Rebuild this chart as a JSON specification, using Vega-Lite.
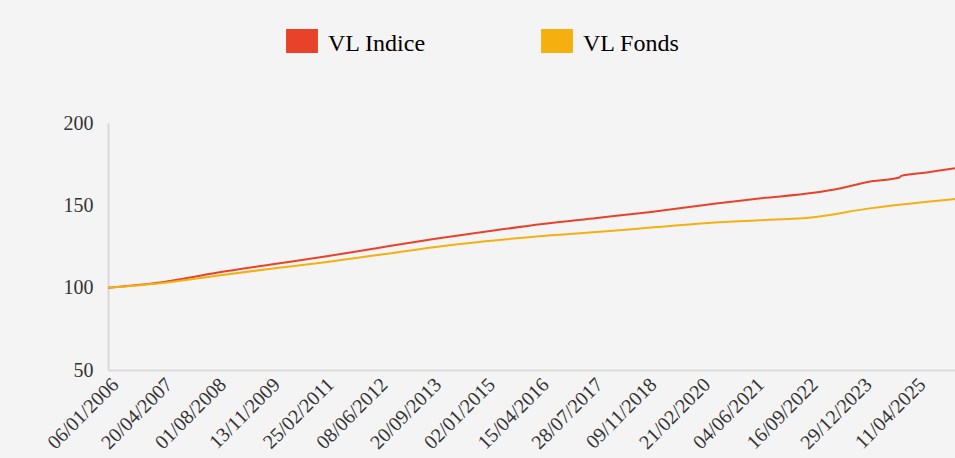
{
  "$schema": "https://vega.github.io/schema/vega-lite/v6.json",
  "width": 847,
  "height": 247,
  "autosize": {"type": "none"},
  "padding": {"left": 108, "top": 123, "right": 0, "bottom": 88},
  "background": "#f4f4f4",
  "config": {"view": {"stroke": null}},
  "data": {
    "values": [
      {"date": "2006-01-06", "serie": "VL Indice", "value": 100},
      {"date": "2007-04-24", "serie": "VL Indice", "value": 103.3},
      {"date": "2008-08-10", "serie": "VL Indice", "value": 109.0},
      {"date": "2009-11-26", "serie": "VL Indice", "value": 114.0},
      {"date": "2011-03-14", "serie": "VL Indice", "value": 118.9},
      {"date": "2012-06-30", "serie": "VL Indice", "value": 124.3},
      {"date": "2013-10-16", "serie": "VL Indice", "value": 129.5},
      {"date": "2015-02-02", "serie": "VL Indice", "value": 134.2},
      {"date": "2016-05-20", "serie": "VL Indice", "value": 138.6},
      {"date": "2017-09-06", "serie": "VL Indice", "value": 142.3},
      {"date": "2018-12-23", "serie": "VL Indice", "value": 146.0},
      {"date": "2020-04-05", "serie": "VL Indice", "value": 150.2},
      {"date": "2021-07-23", "serie": "VL Indice", "value": 154.2},
      {"date": "2022-11-08", "serie": "VL Indice", "value": 157.6},
      {"date": "2023-07-03", "serie": "VL Indice", "value": 160.4},
      {"date": "2024-02-24", "serie": "VL Indice", "value": 164.2},
      {"date": "2024-11-27", "serie": "VL Indice", "value": 166.9},
      {"date": "2024-12-11", "serie": "VL Indice", "value": 167.9},
      {"date": "2025-06-16", "serie": "VL Indice", "value": 169.6},
      {"date": "2026-03-26", "serie": "VL Indice", "value": 172.5},
      {"date": "2006-01-06", "serie": "VL Fonds", "value": 100},
      {"date": "2007-04-24", "serie": "VL Fonds", "value": 102.9},
      {"date": "2008-08-10", "serie": "VL Fonds", "value": 107.3},
      {"date": "2009-11-26", "serie": "VL Fonds", "value": 111.5},
      {"date": "2011-03-14", "serie": "VL Fonds", "value": 115.5},
      {"date": "2012-06-30", "serie": "VL Fonds", "value": 120.0},
      {"date": "2013-10-16", "serie": "VL Fonds", "value": 124.6},
      {"date": "2015-02-02", "serie": "VL Fonds", "value": 128.3},
      {"date": "2016-05-20", "serie": "VL Fonds", "value": 131.4},
      {"date": "2017-09-06", "serie": "VL Fonds", "value": 133.8},
      {"date": "2018-12-23", "serie": "VL Fonds", "value": 136.5},
      {"date": "2020-04-05", "serie": "VL Fonds", "value": 139.1},
      {"date": "2021-07-23", "serie": "VL Fonds", "value": 140.9},
      {"date": "2022-11-08", "serie": "VL Fonds", "value": 142.8},
      {"date": "2024-02-24", "serie": "VL Fonds", "value": 148.0},
      {"date": "2025-06-16", "serie": "VL Fonds", "value": 151.9},
      {"date": "2026-03-26", "serie": "VL Fonds", "value": 153.8}
    ]
  },
  "mark": {"type": "line", "strokeWidth": 2, "clip": true, "interpolate": "monotone"},
  "encoding": {
    "x": {
      "field": "date",
      "type": "temporal",
      "scale": {
        "type": "utc",
        "domain": [
          {"year": 2006, "month": 1, "date": 6, "utc": true},
          {"year": 2026, "month": 3, "date": 26, "utc": true}
        ]
      },
      "axis": {
        "title": null,
        "values": [
          {"year": 2006, "month": 1, "date": 6, "utc": true},
          {"year": 2007, "month": 4, "date": 20, "utc": true},
          {"year": 2008, "month": 8, "date": 1, "utc": true},
          {"year": 2009, "month": 11, "date": 13, "utc": true},
          {"year": 2011, "month": 2, "date": 25, "utc": true},
          {"year": 2012, "month": 6, "date": 8, "utc": true},
          {"year": 2013, "month": 9, "date": 20, "utc": true},
          {"year": 2015, "month": 1, "date": 2, "utc": true},
          {"year": 2016, "month": 4, "date": 15, "utc": true},
          {"year": 2017, "month": 7, "date": 28, "utc": true},
          {"year": 2018, "month": 11, "date": 9, "utc": true},
          {"year": 2020, "month": 2, "date": 21, "utc": true},
          {"year": 2021, "month": 6, "date": 4, "utc": true},
          {"year": 2022, "month": 9, "date": 16, "utc": true},
          {"year": 2023, "month": 12, "date": 29, "utc": true},
          {"year": 2025, "month": 4, "date": 11, "utc": true}
        ],
        "format": "%d/%m/%Y",
        "labelAngle": -45,
        "labelOverlap": false,
        "labelFlush": false,
        "labelBound": false,
        "ticks": false,
        "grid": false,
        "domainColor": "#d9d9d9",
        "domainWidth": 2,
        "labelFont": "Liberation Serif",
        "labelFontSize": 20,
        "labelColor": "#333333",
        "labelPadding": 4,
        "labelDx": -3
      }
    },
    "y": {
      "field": "value",
      "type": "quantitative",
      "scale": {"domain": [50, 200], "nice": false, "zero": false},
      "axis": {
        "title": null,
        "values": [50, 100, 150, 200],
        "ticks": false,
        "grid": false,
        "domainColor": "#d9d9d9",
        "domainWidth": 2,
        "labelFont": "Liberation Serif",
        "labelFontSize": 20,
        "labelColor": "#333333",
        "labelPadding": 15
      }
    },
    "color": {
      "field": "serie",
      "type": "nominal",
      "scale": {"domain": ["VL Indice", "VL Fonds"], "range": ["#e8432a", "#f5b010"]},
      "legend": {
        "title": null,
        "orient": "none",
        "legendX": 182,
        "legendY": -94,
        "direction": "horizontal",
        "padding": 0,
        "symbolType": "M-1.33,-1H1.33V1H-1.33Z",
        "symbolSize": 576,
        "symbolStrokeWidth": 0,
        "labelFont": "Liberation Serif",
        "labelFontSize": 24,
        "labelColor": "#000000",
        "labelOffset": 14,
        "labelBaseline": "middle",
        "columnPadding": 115,
        "encode": {
          "symbols": {"update": {"fill": {"scale": "color", "field": "value"}, "strokeWidth": {"value": 0}}},
          "labels": {"update": {"dy": {"value": 3}}}
        }
      }
    }
  }
}
